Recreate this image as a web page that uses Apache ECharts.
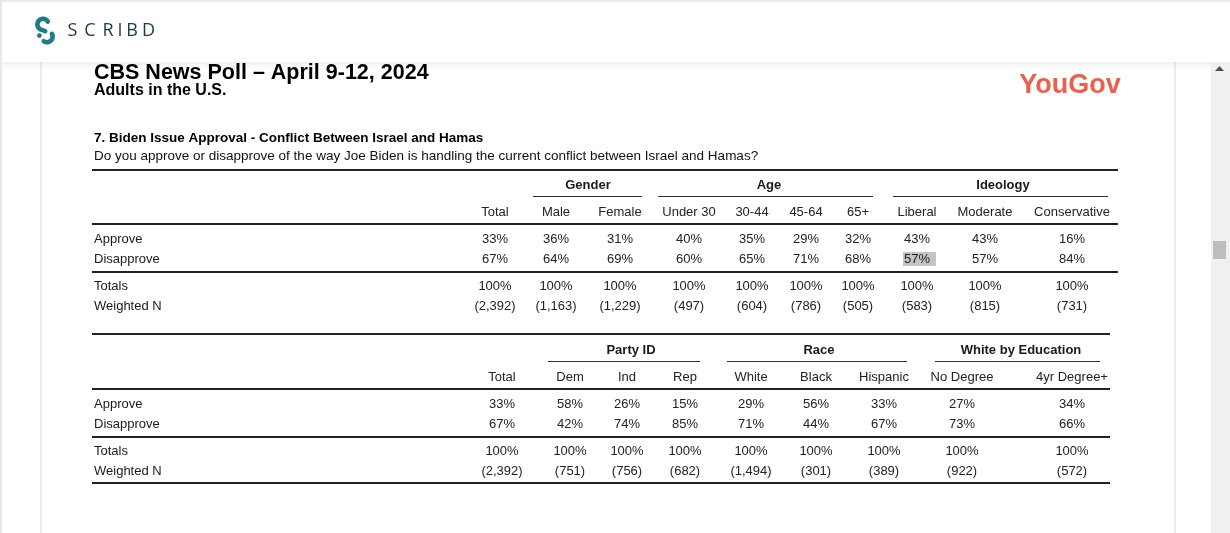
<!DOCTYPE html>
<html>
<head>
<meta charset="utf-8">
<script src="https://cdn.jsdelivr.net/npm/echarts@6/dist/echarts.min.js"></script>
<style>
html,body{margin:0;padding:0;background:#fff;}
#chart{width:1230px;height:533px;}
</style>
</head>
<body>
<div id="chart"></div>
<script>
// ---------- DATA ----------
const pollTitle = 'CBS News Poll – April 9-12, 2024';
const pollSubtitle = 'Adults in the U.S.';
const questionTitle = '7. Biden Issue Approval - Conflict Between Israel and Hamas';
const questionText = 'Do you approve or disapprove of the way Joe Biden is handling the current conflict between Israel and Hamas?';
const rowLabels = ['Approve', 'Disapprove', 'Totals', 'Weighted N'];

const table1Groups = ['Gender', 'Age', 'Ideology'];
const table1Columns = ['Total', 'Male', 'Female', 'Under 30', '30-44', '45-64', '65+', 'Liberal', 'Moderate', 'Conservative'];
const table1Approve = [33, 36, 31, 40, 35, 29, 32, 43, 43, 16];
const table1Disapprove = [67, 64, 69, 60, 65, 71, 68, 57, 57, 84];
const table1Totals = [100, 100, 100, 100, 100, 100, 100, 100, 100, 100];
const table1WeightedN = [2392, 1163, 1229, 497, 604, 786, 505, 583, 815, 731];

const table2Groups = ['Party ID', 'Race', 'White by Education'];
const table2Columns = ['Total', 'Dem', 'Ind', 'Rep', 'White', 'Black', 'Hispanic', 'No Degree', '4yr Degree+'];
const table2Approve = [33, 58, 26, 15, 29, 56, 33, 27, 34];
const table2Disapprove = [67, 42, 74, 85, 71, 44, 67, 73, 66];
const table2Totals = [100, 100, 100, 100, 100, 100, 100, 100, 100];
const table2WeightedN = [2392, 751, 756, 682, 1494, 301, 389, 922, 572];

// ---------- LAYOUT ----------
const FONT = '"Liberation Sans", Arial, sans-serif';
const layout1 = {
  colX: [495, 556, 620, 689, 752, 806, 858, 917, 985, 1072],
  groupX: [588, 769, 1003],
  groupLines: [[533, 642], [658, 873], [893, 1108]],
  top: 170, headLine: 224, midLine: 272, bottom: null, right: 1118,
  groupY: 185, colY: 212, rowY: [239, 259, 286, 306],
  highlight: { row: 1, col: 7 }
};
const layout2 = {
  colX: [502, 570, 627, 685, 751, 816, 884, 962, 1072],
  groupX: [631, 819, 1021],
  groupLines: [[548, 700], [727, 907], [935, 1100]],
  top: 334, headLine: 389, midLine: 437, bottom: 483, right: 1110,
  groupY: 350, colY: 377, rowY: [404, 424, 451, 471],
  highlight: null
};

function pct(v) { return v + '%'; }
function wn(v) { return '(' + v.toLocaleString('en-US') + ')'; }

function txt(x, y, s, opt) {
  opt = opt || {};
  return {
    type: 'text', x: x, y: y, silent: true, z: 10,
    style: {
      text: s, fill: opt.fill || '#1a1a1a',
      font: (opt.weight || 'normal') + ' ' + (opt.size || 13) + 'px ' + (opt.family || FONT),
      textAlign: opt.align || 'center', textVerticalAlign: 'middle'
    }
  };
}
function hline(x1, x2, y, w, c) {
  return { type: 'line', silent: true, shape: { x1: x1, y1: y, x2: x2, y2: y },
    style: { stroke: c || '#222', lineWidth: w || 1 } };
}
function arcPoints(cx, cy, r, a0, a1, n) {
  const pts = [];
  for (let i = 0; i <= n; i++) {
    const a = (a0 + (a1 - a0) * i / n) * Math.PI / 180;
    pts.push([cx + r * Math.cos(a), cy + r * Math.sin(a)]);
  }
  return pts;
}

function buildTable(L, groups, cols, rows) {
  const els = [];
  const left = 92;
  els.push(hline(left, L.right, L.top, 2));
  els.push(hline(left, L.right, L.headLine, 2));
  els.push(hline(left, L.right, L.midLine, 2));
  if (L.bottom) els.push(hline(left, L.right, L.bottom, 2));
  groups.forEach((g, i) => {
    els.push(txt(L.groupX[i], L.groupY, g, { weight: 'bold' }));
    els.push(hline(L.groupLines[i][0], L.groupLines[i][1], L.groupY + 11.5, 1, '#333'));
  });
  cols.forEach((c, i) => els.push(txt(L.colX[i], L.colY, c, { fill: '#222' })));
  rowLabels.forEach((r, ri) => {
    els.push(txt(94, L.rowY[ri], r, { align: 'left' }));
    const vals = rows[ri];
    vals.forEach((v, ci) => {
      const s = ri === 3 ? wn(v) : pct(v);
      if (L.highlight && L.highlight.row === ri && L.highlight.col === ci) {
        els.push({ type: 'rect', silent: true, z: 5,
          shape: { x: L.colX[ci] - 14, y: L.rowY[ri] - 7, width: 33, height: 14 },
          style: { fill: '#c4c4c4' } });
      }
      els.push(txt(L.colX[ci], L.rowY[ri], s, { fill: '#222' }));
    });
  });
  return els;
}

const graphics = [];
// page chrome
graphics.push({ type: 'rect', shape: { x: 0, y: 0, width: 1230, height: 533 }, style: { fill: '#ffffff' }, z: 0, silent: true });
graphics.push({ type: 'line', shape: { x1: 41, y1: 62, x2: 41, y2: 533 }, style: { stroke: '#ededf4', lineWidth: 2 }, z: 1, silent: true });
graphics.push({ type: 'line', shape: { x1: 1175, y1: 62, x2: 1175, y2: 533 }, style: { stroke: '#ededf4', lineWidth: 2 }, z: 1, silent: true });
graphics.push({ type: 'line', shape: { x1: 1, y1: 0, x2: 1, y2: 533 }, style: { stroke: '#e6e6ee', lineWidth: 2 }, z: 20, silent: true });
graphics.push({ type: 'line', shape: { x1: 0, y1: 1, x2: 1230, y2: 1 }, style: { stroke: '#e9e9ef', lineWidth: 2 }, z: 20, silent: true });
// scrollbar
graphics.push({ type: 'rect', shape: { x: 1211, y: 62, width: 19, height: 471 }, style: { fill: '#f0f0f0' }, z: 2, silent: true });
graphics.push({ type: 'rect', shape: { x: 1213, y: 241, width: 13, height: 18 }, style: { fill: '#bdbdbd' }, z: 3, silent: true });
graphics.push({ type: 'polygon', shape: { points: [[1215, 71], [1224, 71], [1219.5, 66]] }, style: { fill: '#505050' }, z: 3, silent: true });
// header bar + shadow
graphics.push({ type: 'rect', shape: { x: 0, y: 62, width: 1211, height: 8 }, z: 4, silent: true,
  style: { fill: new echarts.graphic.LinearGradient(0, 0, 0, 1, [{ offset: 0, color: 'rgba(0,0,0,0.06)' }, { offset: 1, color: 'rgba(0,0,0,0)' }]) } });
graphics.push({ type: 'rect', shape: { x: 0, y: 0, width: 1230, height: 62 }, style: { fill: '#ffffff' }, z: 5, silent: true });
// scribd logo (stylised S)
const LOGO = '#1d7c84';
const topHook = arcPoints(43, 24.4, 5.6, -30, -250, 24).concat([[45.2, 31.2]]);
const bottomHook = arcPoints(47, 36.6, 5.6, -30, 125, 20);
graphics.push({ type: 'polyline', z: 6, silent: true, shape: { points: topHook },
  style: { stroke: LOGO, lineWidth: 4.6, lineCap: 'round', lineJoin: 'round', fill: null } });
graphics.push({ type: 'polyline', z: 6, silent: true, shape: { points: bottomHook },
  style: { stroke: LOGO, lineWidth: 4.6, lineCap: 'round', lineJoin: 'round', fill: null } });
graphics.push({ type: 'circle', shape: { cx: 39.4, cy: 35.6, r: 2.4 }, style: { fill: LOGO }, z: 6, silent: true });
const scribdLetters = ['S', 'C', 'R', 'I', 'B', 'D'];
const scribdX = [72.5, 90, 108, 120, 132, 148.5];
scribdLetters.forEach((l, i) => graphics.push(Object.assign(txt(scribdX[i], 31, l, { size: 18, fill: '#1d3a48', family: '"Open Sans", sans-serif' }), { z: 6 })));

// document header
graphics.push(txt(94, 73, pollTitle, { align: 'left', weight: 'bold', size: 21.5, fill: '#000' }));
graphics.push(txt(94, 91, pollSubtitle, { align: 'left', weight: 'bold', size: 16, fill: '#000' }));
graphics.push(txt(1070, 86, 'YouGov', { weight: 'bold', size: 27, fill: '#e8604e' }));
graphics.push(txt(94, 138, questionTitle, { align: 'left', weight: 'bold', size: 13.5, fill: '#000' }));
graphics.push(txt(94, 156, questionText, { align: 'left', size: 13.5, fill: '#111' }));

buildTable(layout1, table1Groups, table1Columns, [table1Approve, table1Disapprove, table1Totals, table1WeightedN]).forEach(e => graphics.push(e));
buildTable(layout2, table2Groups, table2Columns, [table2Approve, table2Disapprove, table2Totals, table2WeightedN]).forEach(e => graphics.push(e));

const chart = echarts.init(document.getElementById('chart'), null, { renderer: 'canvas' });
chart.setOption({ animation: false, backgroundColor: '#ffffff', graphic: { elements: graphics } });
</script>
</body>
</html>
